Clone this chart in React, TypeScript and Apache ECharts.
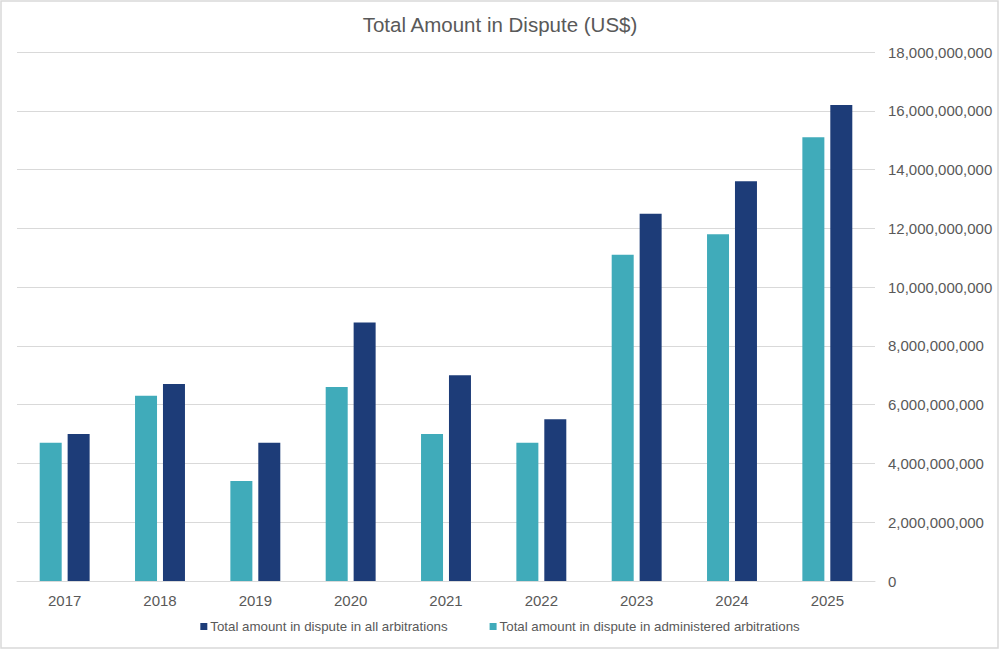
import React, { useEffect, useRef } from "react";
import * as echarts from "echarts";

const years = ["2017", "2018", "2019", "2020", "2021", "2022", "2023", "2024", "2025"];
const administered = [4.7e9, 6.3e9, 3.4e9, 6.6e9, 5.0e9, 4.7e9, 11.1e9, 11.8e9, 15.1e9];
const allArbitrations = [5.0e9, 6.7e9, 4.7e9, 8.8e9, 7.0e9, 5.5e9, 12.5e9, 13.6e9, 16.2e9];
const seriesNames = [
  "Total amount in dispute in all arbitrations",
  "Total amount in dispute in administered arbitrations",
];
const titleText = "Total Amount in Dispute (US$)";

export default function App() {
  const ref = useRef<HTMLDivElement>(null);
  useEffect(() => {
    document.body.style.margin = "0";
    const chart = echarts.init(ref.current!, null, { renderer: "svg" });
    const font = "Liberation Sans, Arial, sans-serif";
    chart.setOption({
      animation: false,
      backgroundColor: "#ffffff",
      title: {
        text: titleText,
        left: "center",
        top: 9,
        textStyle: { fontFamily: font, fontSize: 20.5, fontWeight: "normal", color: "#595959" },
      },
      graphic: [
        {
          type: "rect",
          shape: { x: 1, y: 1, width: 997, height: 647 },
          style: { fill: "none", stroke: "#d9d9d9", lineWidth: 1.5 },
          silent: true,
        },
      ],
      legend: {
        data: [seriesNames[0], seriesNames[1]],
        bottom: 12,
        left: "center",
        itemWidth: 7,
        itemHeight: 7,
        itemGap: 42,
        icon: "rect",
        textStyle: { fontFamily: font, fontSize: 13.3, color: "#595959", padding: [0, 0, 0, -2] },
      },
      grid: { left: 17, right: 125, top: 52, bottom: 69, containLabel: false },
      xAxis: {
        type: "category",
        data: years,
        axisLine: { lineStyle: { color: "#d9d9d9", width: 1 } },
        axisTick: { show: false },
        axisLabel: { fontFamily: font, fontSize: 15, color: "#595959", margin: 12 },
      },
      yAxis: {
        type: "value",
        position: "right",
        min: 0,
        max: 18e9,
        interval: 2e9,
        splitLine: { lineStyle: { color: "#d9d9d9", width: 1 } },
        axisLine: { show: false },
        axisTick: { show: false },
        axisLabel: {
          fontFamily: font,
          fontSize: 15,
          color: "#595959",
          margin: 13,
          formatter: (v: number) => v.toLocaleString("en-US"),
        },
      },
      series: [
        {
          name: seriesNames[1],
          type: "bar",
          data: administered,
          barWidth: 22,
          barGap: "27%",
          itemStyle: { color: "#40abba" },
        },
        {
          name: seriesNames[0],
          type: "bar",
          data: allArbitrations,
          barWidth: 22,
          barGap: "27%",
          itemStyle: { color: "#1d3c78" },
        },
      ],
    });
    return () => chart.dispose();
  }, []);
  return <div ref={ref} style={{ width: 1000, height: 650 }} />;
}
